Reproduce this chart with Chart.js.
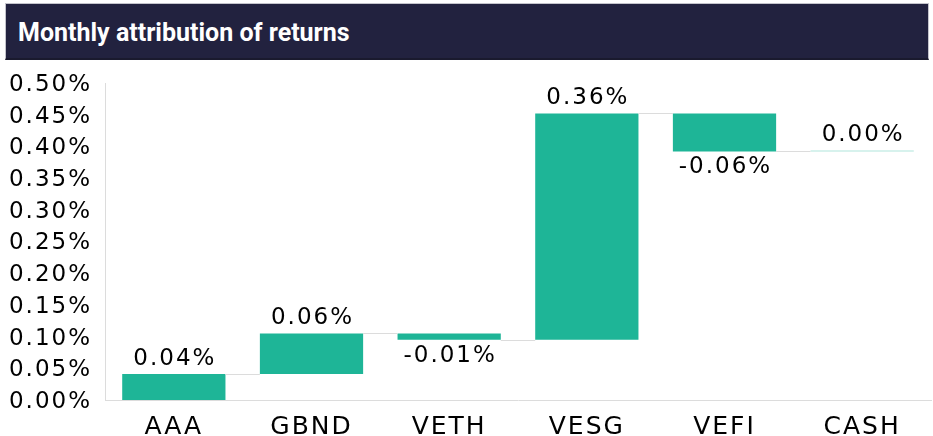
<!DOCTYPE html>
<html lang="en">
<head>
    <meta charset="UTF-8">
    <title>Monthly attribution of returns</title>
    <script src="https://cdn.jsdelivr.net/npm/chart.js"></script>
    <style>
        body {
            margin: 0;
            background-color: white;
            width: 933px;
            height: 436px;
            position: relative;
            overflow: hidden;
        }

        #titleBar {
            position: absolute;
            left: 5px;
            top: 3px;
            width: 924px;
            height: 57px;
            background-color: #22223f;
            border: 1px solid #c4c4cc;
            border-bottom: 2px solid #1a1a2e;
            color: white;
            font-family: Roboto, sans-serif;
            font-weight: bold;
            font-size: 25px;
            line-height: 58px;
            padding-left: 12px;
            box-sizing: border-box;
            z-index: 2;
        }

        #attributionChart {
            position: absolute;
            left: 0;
            top: 0;
        }
    </style>
</head>
<body>
    <div id="titleBar">Monthly attribution of returns</div>
    <canvas id="attributionChart" width="933" height="436"></canvas>

    <script>
        // attribution per holding, in percentage points
        const funds = ['AAA', 'GBND', 'VETH', 'VESG', 'VEFI', 'CASH'];
        const contributions = [0.041, 0.064, -0.010, 0.357, -0.060, 0.000];
        const yTicks = [0, 0.05, 0.10, 0.15, 0.20, 0.25, 0.30, 0.35, 0.40, 0.45, 0.50];

        const teal = '#1eb597';
        const paleTeal = '#b0e5dc';
        const textFont = 'DejaVu Sans';

        // running total -> floating bars [start, end]
        let running = 0;
        const steps = contributions.map(v => {
            const start = running;
            running += v;
            return [start, running];
        });

        const spacing = {
            id: 'spacing',
            beforeDraw(chart) { chart.ctx.letterSpacing = '2px'; },
            afterDraw(chart) { chart.ctx.letterSpacing = '0px'; }
        };

        const connectors = {
            id: 'connectors',
            afterDatasetsDraw(chart) {
                const ctx = chart.ctx;
                const bars = chart.getDatasetMeta(0).data;
                const y = chart.scales.y;
                ctx.save();
                ctx.strokeStyle = '#dcdcdc';
                ctx.lineWidth = 1;
                for (let i = 0; i < bars.length - 1; i++) {
                    const py = Math.round(y.getPixelForValue(steps[i][1])) + 0.5;
                    ctx.beginPath();
                    ctx.moveTo(bars[i].x + bars[i].width / 2, py);
                    ctx.lineTo(bars[i + 1].x - bars[i + 1].width / 2, py);
                    ctx.stroke();
                }
                ctx.restore();
            }
        };

        const valueLabels = {
            id: 'valueLabels',
            afterDatasetsDraw(chart) {
                const ctx = chart.ctx;
                const bars = chart.getDatasetMeta(0).data;
                ctx.save();
                ctx.letterSpacing = '2px';
                ctx.font = '23px "' + textFont + '"';
                ctx.fillStyle = '#000';
                ctx.textAlign = 'center';
                ctx.textBaseline = 'middle';
                bars.forEach((bar, i) => {
                    const top = Math.min(bar.y, bar.base);
                    const bottom = Math.max(bar.y, bar.base);
                    const py = contributions[i] < 0 ? bottom + 16 : top - 15;
                    ctx.fillText(contributions[i].toFixed(2) + '%', bar.x + 1, py);
                });
                ctx.restore();
            }
        };

        const ctx = document.getElementById('attributionChart').getContext('2d');
        new Chart(ctx, {
            type: 'bar',
            data: {
                labels: funds,
                datasets: [{
                    data: steps,
                    backgroundColor: contributions.map(v => v === 0 ? paleTeal : teal),
                    borderWidth: 0,
                    minBarLength: 1,
                    barPercentage: 0.75,
                    categoryPercentage: 1
                }]
            },
            options: {
                responsive: false,
                animation: false,
                layout: {
                    padding: { top: 83, right: 2, left: 0, bottom: 0 }
                },
                plugins: {
                    legend: { display: false },
                    tooltip: { enabled: false }
                },
                scales: {
                    x: {
                        grid: { display: false, drawTicks: false },
                        border: { color: '#dcdcdc' },
                        ticks: {
                            color: '#000',
                            padding: 12,
                            font: { family: textFont, size: 25 }
                        },
                        afterFit(scale) { scale.height = 36; }
                    },
                    y: {
                        min: 0,
                        max: 0.5,
                        afterBuildTicks(scale) {
                            scale.ticks = yTicks.map(v => ({ value: v }));
                        },
                        grid: { display: false, drawTicks: false },
                        border: { color: '#dcdcdc' },
                        ticks: {
                            color: '#000',
                            padding: 13,
                            labelOffset: 2,
                            font: { family: textFont, size: 23 },
                            callback: v => v.toFixed(2) + '%'
                        },
                        afterFit(scale) { scale.width = 105; }
                    }
                }
            },
            plugins: [spacing, connectors, valueLabels]
        });
    </script>
</body>
</html>
